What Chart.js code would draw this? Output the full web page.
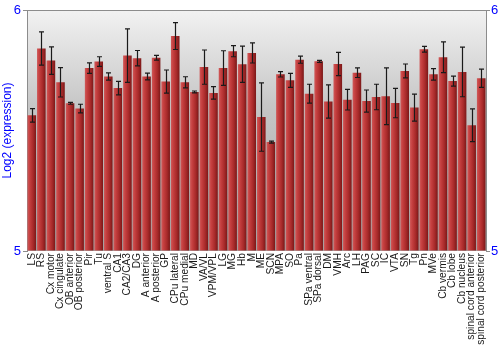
<!DOCTYPE html>
<html>
<head>
<meta charset="utf-8">
<script src="https://cdn.jsdelivr.net/npm/chart.js@4/dist/chart.umd.min.js"></script>
<style>
  html, body { margin: 0; padding: 0; background: #ffffff; }
  #wrap { width: 500px; height: 350px; }
</style>
</head>
<body>
<div id="wrap"><canvas id="c" width="500" height="350"></canvas></div>
<script>
const categories = ["LS","RS","Cx motor","Cx cingulate","OB anterior","OB posterior","Pir","Tu","ventral S","CA1","CA2/CA3","DG","A anterior","A posterior","GP","CPu lateral","CPu medial","MD","VA/VL","VPM/VPL","LG","MG","Hb","M","ME","SCN","MPA","SO","Pa","SPa ventral","SPa dorsal","DM","VMH","Arc","LH","PAG","SC","IC","VTA","SN","Tg","Pn","MVe","Cb vermis","Cb lobe","Cb nucleus","spinal cord anterior","spinal cord posterior"];
const values = [5.563,5.840,5.790,5.700,5.613,5.591,5.759,5.786,5.724,5.676,5.811,5.800,5.724,5.802,5.703,5.892,5.700,5.660,5.763,5.656,5.759,5.829,5.775,5.822,5.556,5.452,5.733,5.708,5.794,5.653,5.787,5.620,5.776,5.628,5.740,5.622,5.639,5.642,5.614,5.747,5.595,5.837,5.733,5.804,5.705,5.743,5.522,5.717];
const errors = [0.028,0.069,0.057,0.061,0.004,0.018,0.022,0.020,0.015,0.028,0.111,0.032,0.014,0.010,0.048,0.056,0.023,0.004,0.071,0.026,0.072,0.023,0.075,0.042,0.142,0.004,0.011,0.029,0.015,0.039,0.004,0.069,0.048,0.043,0.020,0.046,0.053,0.118,0.061,0.029,0.056,0.012,0.024,0.064,0.021,0.103,0.068,0.038];
const yTicks = [5, 6];
const yTitle = "Log2 (expression)";

const bgPlugin = {
  id: 'bg',
  beforeDraw(chart) {
    const a = chart.chartArea, c = chart.ctx;
    const g = c.createLinearGradient(0, a.top, 0, a.bottom);
    g.addColorStop(0, '#f2f2f2');
    g.addColorStop(0.4, '#c6c6c6');
    g.addColorStop(1, '#a4a4a4');
    c.save();
    c.fillStyle = g;
    c.fillRect(a.left, a.top, a.right - a.left, a.bottom - a.top);
    c.restore();
  },
  afterDraw(chart) {
    const a = chart.chartArea, c = chart.ctx;
    c.save();
    c.strokeStyle = '#8c8c8c';
    c.lineWidth = 1;
    c.beginPath();
    c.moveTo(a.left, a.top + 0.5);
    c.lineTo(a.right, a.top + 0.5);
    c.stroke();
    c.restore();
  }
};

const errPlugin = {
  id: 'errbars',
  afterDatasetsDraw(chart) {
    const meta = chart.getDatasetMeta(0);
    const ys = chart.scales.y, c = chart.ctx;
    c.save();
    c.strokeStyle = '#1a1a1a';
    c.lineWidth = 1.2;
    meta.data.forEach((bar, i) => {
      const x = Math.round(bar.x) + 0.5;
      const yt = ys.getPixelForValue(values[i] + errors[i]);
      const yb = ys.getPixelForValue(values[i] - errors[i]);
      c.beginPath();
      c.moveTo(x, yt); c.lineTo(x, yb);
      c.moveTo(x - 2.5, yt); c.lineTo(x + 2.5, yt);
      c.moveTo(x - 2.5, yb); c.lineTo(x + 2.5, yb);
      c.stroke();
    });
    c.restore();
  }
};

function barFill(ctx) {
  const chart = ctx.chart;
  const xs = chart.scales && chart.scales.x;
  if (!xs || ctx.dataIndex === undefined || !isFinite(xs.width) || xs.width <= 0) return '#b23030';
  const cx = xs.getPixelForValue(ctx.dataIndex);
  const w = xs.width / categories.length * 0.9;
  const g = chart.ctx.createLinearGradient(cx - w / 2, 0, cx + w / 2, 0);
  g.addColorStop(0, '#cf5a5a');
  g.addColorStop(0.25, '#c64040');
  g.addColorStop(0.65, '#a82a2a');
  g.addColorStop(1, '#7a1818');
  return g;
}

new Chart(document.getElementById('c'), {
  type: 'bar',
  data: {
    labels: categories,
    datasets: [{
      data: values,
      backgroundColor: barFill,
      borderWidth: 0,
      barPercentage: 0.9,
      categoryPercentage: 1.0,
      base: 5
    }]
  },
  options: {
    responsive: false,
    animation: false,
    layout: { padding: { top: 10, left: 0, right: 0, bottom: 0 } },
    plugins: { legend: { display: false }, tooltip: { enabled: false } },
    scales: {
      x: {
        grid: { display: false, drawTicks: false },
        border: { display: false },
        ticks: {
          autoSkip: false, minRotation: 90, maxRotation: 90, padding: 2,
          color: '#1a1a1a',
          font: { family: 'Liberation Sans, Arial, sans-serif', size: 10.2 }
        },
        afterFit(s) { s.height = 99; }
      },
      y: {
        min: 5, max: 6,
        position: 'left',
        grid: { drawOnChartArea: false, drawTicks: true, tickLength: 4, color: '#8c8c8c' },
        border: { display: true, color: '#8c8c8c' },
        ticks: {
          stepSize: 1, padding: 2, color: '#0000ff',
          font: { family: 'Liberation Sans, Arial, sans-serif', size: 13 },
          callback: (v) => yTicks.includes(v) ? String(v) : ''
        },
        title: {
          display: true, text: yTitle, color: '#0000ff', padding: 0,
          font: { family: 'Liberation Sans, Arial, sans-serif', size: 12 }
        },
        afterFit(s) { s.width = 27; }
      },
      y2: {
        min: 5, max: 6,
        position: 'right',
        grid: { drawOnChartArea: false, drawTicks: true, tickLength: 4, color: '#8c8c8c' },
        border: { display: true, color: '#8c8c8c' },
        ticks: {
          stepSize: 1, padding: 1, color: '#0000ff',
          font: { family: 'Liberation Sans, Arial, sans-serif', size: 13 },
          callback: (v) => yTicks.includes(v) ? String(v) : ''
        },
        afterFit(s) { s.width = 14; }
      }
    }
  },
  plugins: [bgPlugin, errPlugin]
});
</script>
</body>
</html>
